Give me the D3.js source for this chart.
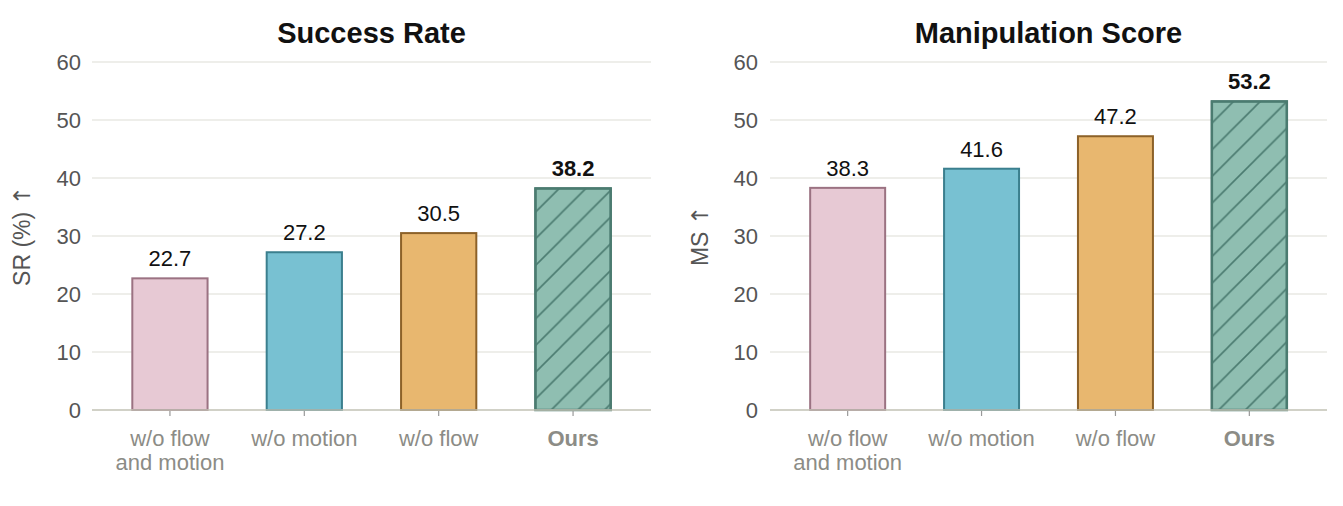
<!DOCTYPE html>
<html>
<head>
<meta charset="utf-8">
<script src="https://cdn.jsdelivr.net/npm/d3@7"></script>
<style>
  body { margin: 0; background: #fff; }
  svg { display: block; font-family: "Liberation Sans", Arial, sans-serif; }
</style>
</head>
<body>
<div class="chart"></div>
<script>
// data
const categories = ["w/o flow\nand motion", "w/o motion", "w/o flow", "Ours"];
const srValues = [22.7, 27.2, 30.5, 38.2];
const msValues = [38.3, 41.6, 47.2, 53.2];
const yTicks = [0, 10, 20, 30, 40, 50, 60];

const fills = ["#e7c9d4", "#78c1d2", "#e8b76f", "#8fbeb1"];
const strokes = ["#9b7282", "#3b7f8e", "#8c6128", "#4b7b70"];

const width = 1343, height = 506;

const svg = d3.select(".chart").append("svg")
  .attr("width", width)
  .attr("height", height);

// hatch for "Ours"
svg.append("defs").append("pattern")
  .attr("id", "hatch")
  .attr("patternUnits", "userSpaceOnUse")
  .attr("width", 26.7)
  .attr("height", 26.7)
  .call(p => p.append("path")
    .attr("d", "M-2,28.7 L28.7,-2 M-6.7,6.7 L6.7,-6.7 M20,33.4 L33.4,20")
    .attr("stroke", strokes[3])
    .attr("stroke-width", 1.6)
    .attr("fill", "none"));

function Panel({ values, title, ylabel, x0, x1, labelX, tickX }) {
  const top = 62, bottom = 410;
  const x = d3.scaleLinear().domain([-0.58, 3.58]).range([x0, x1]);
  const y = d3.scaleLinear().domain([0, 60]).range([bottom, top]);
  const bw = 0.56;
  const g = svg.append("g");

  // grid
  g.append("g")
    .selectAll("line")
    .data(yTicks.filter(d => d > 0))
    .join("line")
    .attr("x1", x0).attr("x2", x1)
    .attr("y1", d => y(d)).attr("y2", d => y(d))
    .attr("stroke", "#deded6")
    .attr("stroke-width", 1.2);

  // y tick labels
  g.append("g")
    .attr("font-size", 22)
    .attr("fill", "#555")
    .attr("text-anchor", "end")
    .selectAll("text")
    .data(yTicks)
    .join("text")
    .attr("x", tickX)
    .attr("y", d => y(d))
    .attr("dy", "0.36em")
    .text(d => d);

  // bars
  const idx = d3.range(values.length);
  g.append("g")
    .selectAll("rect")
    .data(idx)
    .join("rect")
    .attr("x", i => x(i - bw / 2))
    .attr("width", x(bw) - x(0))
    .attr("y", i => y(values[i]))
    .attr("height", i => y(0) - y(values[i]))
    .attr("fill", i => fills[i])
    .attr("stroke", i => strokes[i])
    .attr("stroke-width", 2);

  g.append("rect")
    .attr("x", x(3 - bw / 2))
    .attr("width", x(bw) - x(0))
    .attr("y", y(values[3]))
    .attr("height", y(0) - y(values[3]))
    .attr("fill", "url(#hatch)")
    .attr("stroke", strokes[3])
    .attr("stroke-width", 2.5);

  // value labels
  g.append("g")
    .attr("font-size", 22)
    .attr("text-anchor", "middle")
    .attr("fill", "#111")
    .selectAll("text")
    .data(idx)
    .join("text")
    .attr("x", i => x(i))
    .attr("y", i => y(values[i]) - 12)
    .attr("font-weight", i => (i === 3 ? "bold" : null))
    .text(i => values[i].toFixed(1));

  // bottom axis
  g.append("line")
    .attr("x1", x0).attr("x2", x1)
    .attr("y1", bottom).attr("y2", bottom)
    .attr("stroke", "#c2c2b4")
    .attr("stroke-width", 1.6);

  g.append("g")
    .selectAll("line")
    .data(idx)
    .join("line")
    .attr("x1", i => x(i)).attr("x2", i => x(i))
    .attr("y1", bottom + 1).attr("y2", bottom + 6)
    .attr("stroke", "#999")
    .attr("stroke-width", 1.2);

  g.append("g")
    .attr("font-size", 22)
    .attr("text-anchor", "middle")
    .attr("fill", "#8c8c86")
    .selectAll("text")
    .data(idx)
    .join("text")
    .attr("font-weight", i => (i === 3 ? "bold" : null))
    .attr("transform", i => `translate(${x(i)},446)`)
    .selectAll("tspan")
    .data(i => categories[i].split("\n"))
    .join("tspan")
    .attr("x", 0)
    .attr("y", (_, j) => j * 24)
    .text(d => d);

  // titles
  g.append("text")
    .attr("x", (x0 + x1) / 2)
    .attr("y", 43)
    .attr("text-anchor", "middle")
    .attr("font-size", 29)
    .attr("font-weight", "bold")
    .attr("fill", "#111")
    .text(title);

  // y label, arrow from DejaVu so it is the long thin glyph
  const yl = g.append("text")
    .attr("transform", `translate(${labelX},${(top + bottom) / 2}) rotate(-90)`)
    .attr("text-anchor", "middle")
    .attr("dy", "0.36em")
    .attr("font-size", 23)
    .attr("fill", "#555");
  yl.append("tspan").text(ylabel.replace(" ↑", " "));
  yl.append("tspan").attr("font-family", "DejaVu Sans").text("↑");
}

Panel({ values: srValues, title: "Success Rate", ylabel: "SR (%) ↑", x0: 92, x1: 651, labelX: 22, tickX: 81 });
Panel({ values: msValues, title: "Manipulation Score", ylabel: "MS ↑", x0: 770, x1: 1327, labelX: 700, tickX: 758 });
</script>
</body>
</html>
